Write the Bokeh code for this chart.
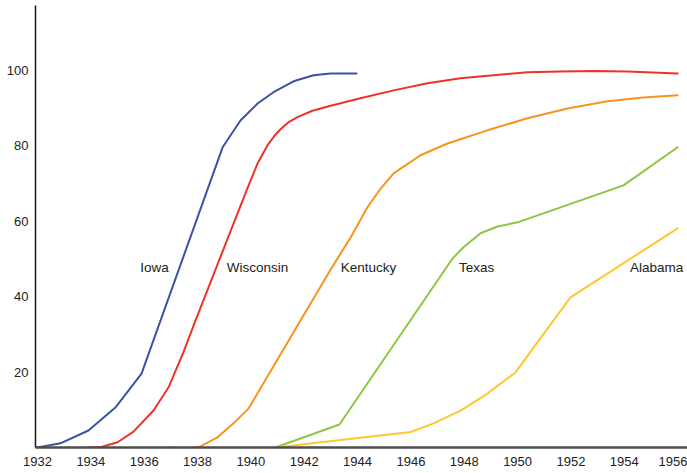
from bokeh.plotting import figure
from bokeh.models import Range1d, FixedTicker
from bokeh.core.properties import value
from bokeh.embed import file_html
from bokeh.resources import INLINE

# Hybrid corn adoption (% of acreage)
iowa_year = [1932.0, 1932.86, 1933.91, 1934.92, 1935.9, 1938.94, 1939.61, 1940.25,
             1940.85, 1941.6, 1942.35, 1942.99, 1943.96]
iowa_pct = [0.0, 1.1, 4.5, 10.6, 19.6, 79.6, 86.7, 91.2, 94.2, 97.1, 98.7, 99.2, 99.2]

wisc_year = [1933.87, 1934.36, 1935.0, 1935.6, 1936.35, 1936.91, 1937.47, 1937.92,
             1939.84, 1940.25, 1940.62, 1940.9, 1941.11, 1941.4, 1941.75, 1942.31,
             1942.99, 1944.11, 1945.35, 1946.62, 1947.86, 1949.1, 1950.37, 1951.61,
             1952.85, 1954.12, 1956.0]
wisc_pct = [0.0, 0.1, 1.4, 4.2, 9.8, 15.9, 25.2, 33.6, 68.2, 75.3, 80.1, 82.8, 84.4,
            86.2, 87.6, 89.3, 90.6, 92.6, 94.7, 96.6, 97.9, 98.7, 99.5, 99.7, 99.8,
            99.7, 99.2]

kent_year = [1936.91, 1937.62, 1938.11, 1938.75, 1939.35, 1939.91, 1940.62, 1941.37,
             1941.86, 1942.24, 1942.99, 1943.74, 1944.37, 1944.86, 1945.35, 1946.36,
             1947.37, 1948.87, 1950.37, 1951.87, 1953.37, 1954.72, 1956.0]
kent_pct = [0.0, -0.4, 0.3, 2.7, 6.4, 10.3, 18.8, 27.8, 33.7, 38.2, 47.2, 55.7, 63.7,
            68.6, 72.7, 77.5, 80.6, 84.1, 87.3, 89.9, 91.8, 92.8, 93.4]

texas_year = [1940.92, 1943.32, 1947.56, 1947.97, 1948.61, 1949.25, 1950.0, 1953.97, 1956.0]
texas_pct = [0.0, 6.1, 50.1, 53.1, 56.8, 58.6, 59.7, 69.5, 79.6]

alab_year = [1940.92, 1945.99, 1946.85, 1947.86, 1948.87, 1949.92, 1951.98, 1956.0]
alab_pct = [0.0, 4.1, 6.4, 9.8, 14.3, 19.9, 39.8, 58.1]

label_names = ["Iowa", "Wisconsin", "Kentucky", "Texas", "Alabama"]
label_year = [1936.39, 1940.25, 1944.41, 1948.46, 1955.21]
label_pct = [47.7, 47.7, 47.7, 47.7, 47.7]

x_ticks = list(range(1932, 1957, 2))
y_ticks = [20, 40, 60, 80, 100]

colors = ["#3a53a4", "#ed3227", "#f7941e", "#8dc641", "#fdc82f"]

p = figure(width=687, height=473, output_backend="svg", toolbar_location=None,
           x_range=Range1d(1931.925, 1956.37), y_range=Range1d(0, 117.2),
           min_border_left=35, min_border_right=0, min_border_top=5,
           min_border_bottom=26)
p.outline_line_color = None
p.grid.visible = False
p.background_fill_color = "white"

series = [(iowa_year, iowa_pct), (wisc_year, wisc_pct), (kent_year, kent_pct),
          (texas_year, texas_pct), (alab_year, alab_pct)]
for (xs, ys), c in zip(series, colors):
    p.line(xs, ys, line_color=c, line_width=2, line_join="round", line_cap="round")

p.text(x=label_year, y=label_pct, text=label_names, text_align="center",
       text_baseline="middle", text_color="#222222",
       text_font=value("Liberation Sans"), text_font_size="13.5px")

p.xaxis.ticker = FixedTicker(ticks=x_ticks)
p.yaxis.ticker = FixedTicker(ticks=y_ticks)
for ax in (p.xaxis, p.yaxis):
    ax.major_tick_in = 0
    ax.major_tick_out = 0
    ax.minor_tick_in = 0
    ax.minor_tick_out = 0
    ax.major_label_text_font = "Liberation Sans"
    ax.major_label_text_font_size = "13px"
    ax.major_label_text_color = "#222222"
p.xaxis.major_label_standoff = 9
p.yaxis.major_label_standoff = 7
p.xaxis.axis_line_color = "#4d4d4d"
p.xaxis.axis_line_width = 2.5
p.yaxis.axis_line_color = "#1a1a1a"
p.yaxis.axis_line_width = 1.5

open("out.html", "w").write(file_html(p, INLINE))
